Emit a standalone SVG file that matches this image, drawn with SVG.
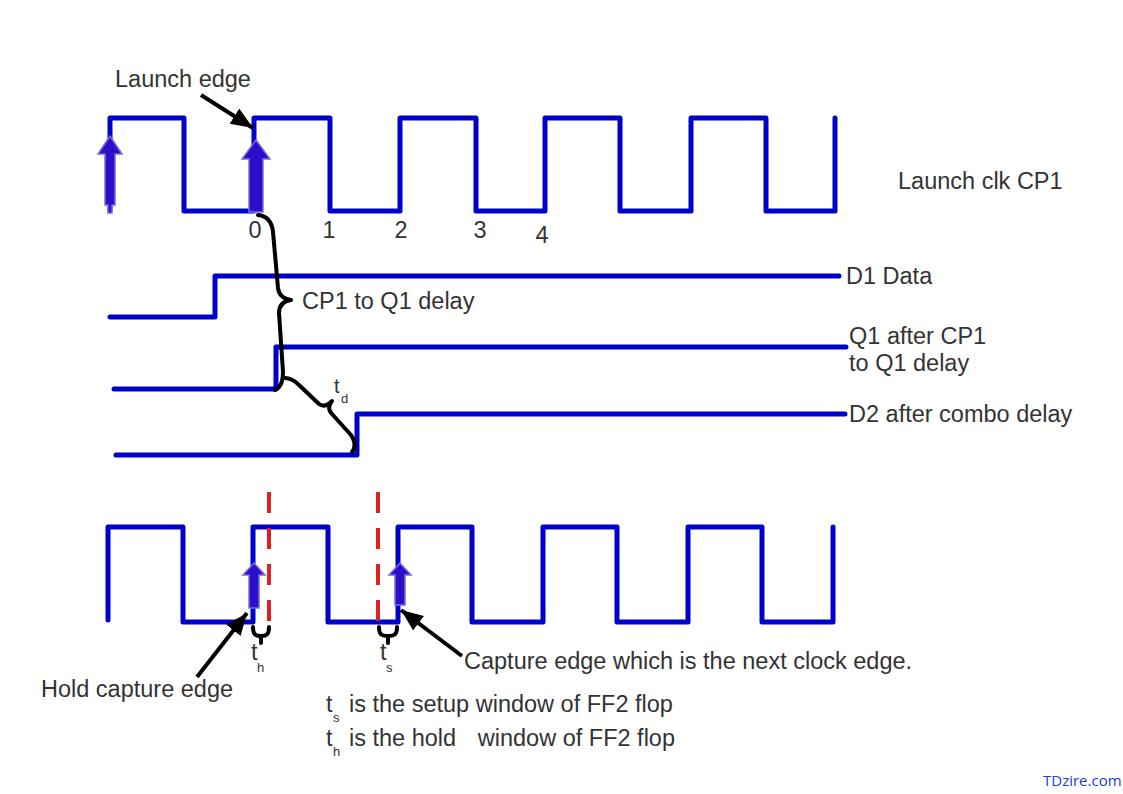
<svg xmlns="http://www.w3.org/2000/svg" width="1123" height="794" viewBox="0 0 1123 794">
<style>
.w{fill:none;stroke:#0000cc;stroke-width:5;stroke-linejoin:round;stroke-linecap:round}
.t{font-family:"Liberation Sans",Arial,sans-serif;font-size:23.5px;fill:#333333}
.sub{font-family:"Liberation Sans",Arial,sans-serif;font-size:13px;fill:#333333}
.br{fill:none;stroke:#000;stroke-width:4;stroke-linecap:round;stroke-linejoin:round}
.ba{fill:#2a10c8;stroke:#7a6ae0;stroke-width:1.5}
.ar{stroke:#000;stroke-width:4;fill:none}
.rd{stroke:#e02020;stroke-width:4;stroke-dasharray:21 15;fill:none}
</style>
<defs>
<marker id="ah" markerUnits="userSpaceOnUse" markerWidth="24" markerHeight="20" refX="22" refY="10" orient="auto">
<path d="M0,1 L22,10 L0,19 Z" fill="#000"/>
</marker>
</defs>
<rect width="1123" height="794" fill="#fff"/>

<g id="launch-clock">
<path class="w" d="M110,210 V118 H184 V211 H254 V118 H330 V211 H400 V118 H476 V211 H545 V118 H620 V211 H691 V118 H766 V211 H835 V118"/>
<polygon class="ba" points="108,213 108,205 105,205 105,154 98,154 110,136 122,154 115,154 115,205 112,205 112,213"/>
<polygon class="ba" points="249,212 249,159 242,159 256,140 270,159 263,159 263,212"/>
<text class="t" x="898" y="189">Launch clk CP1</text>
<text class="t" x="255" y="238" text-anchor="middle">0</text>
<text class="t" x="329" y="238" text-anchor="middle">1</text>
<text class="t" x="401" y="238" text-anchor="middle">2</text>
<text class="t" x="480" y="238" text-anchor="middle">3</text>
<text class="t" x="542" y="243" text-anchor="middle">4</text>
</g>

<g id="d1-data">
<path class="w" d="M110,317 H215 V276 H839"/>
<text class="t" x="846" y="284">D1 Data</text>
</g>

<g id="q1">
<path class="w" d="M114,389 H276 V347 H846"/>
<text class="t" x="849" y="344">Q1 after CP1</text>
<text class="t" x="849" y="371">to Q1 delay</text>
</g>

<g id="d2">
<path class="w" d="M116,455 H357 V414 H845"/>
<text class="t" x="849" y="422">D2 after combo delay</text>
</g>

<g id="capture-clock">
<path class="w" d="M108,620 V527 H183 V622 H253 V527 H328 V622 H398 V527 H472 V622 H543 V527 H617 V622 H688 V527 H762 V622 H833 V527"/>
<line class="rd" x1="269" y1="492" x2="269" y2="628"/>
<line class="rd" x1="378" y1="492" x2="378" y2="628"/>
<polygon class="ba" points="249,608 249,575 243,575 254,563 265,575 259,575 259,608"/>
<polygon class="ba" points="395,605 395,575 389,575 400,563 411,575 405,575 405,605"/>
</g>

<g id="annotations">
<text class="t" x="115" y="87">Launch edge</text>
<text class="t" x="302" y="309">CP1 to Q1 delay</text>
<text class="t" x="334" y="393" style="font-size:20px">t</text>
<text class="sub" x="341" y="403">d</text>
<text class="t" x="251" y="660">t</text>
<text class="sub" x="257" y="672">h</text>
<text class="t" x="380" y="660">t</text>
<text class="sub" x="386" y="672">s</text>
<text class="t" x="464" y="669">Capture edge which is the next clock edge.</text>
<text class="t" x="41" y="697">Hold capture edge</text>
<text class="t" x="326" y="712">t</text>
<text class="sub" x="333" y="722">s</text>
<text class="t" x="349" y="712">is the setup window of FF2 flop</text>
<text class="t" x="326" y="746">t</text>
<text class="sub" x="333" y="756">h</text>
<text class="t" x="349" y="746">is the hold</text>
<text class="t" x="675" y="746" text-anchor="end">window of FF2 flop</text>
<text x="1043" y="786" style="font-family:'Open Sans','Liberation Sans',sans-serif;font-size:15px;fill:#2040d8">TDzire.com</text>
</g>

<g id="connectors">
<path class="br" d="M258,215 C268,216 272,222 273,232 L278,288 C279,296 284,299 291,300 C284,301 279,305 279,313 L283,372 C283,382 280,388 275,390"/>
<path class="br" d="M285,378 C291,378 295,381 299,385 L319,404 C323,407 327,406 332,401 C328,406 328,410 332,414 L351,435 C356,442 355,448 352,452"/>
<path class="br" d="M253,627 C253,634 255,636 261,636 L261,643 M261,636 C267,636 269,634 269,627"/>
<path class="br" d="M379,627 C379,634 381,636 388,636 L388,643 M388,636 C395,636 397,634 397,627"/>
<line class="ar" x1="201" y1="95" x2="253" y2="128" marker-end="url(#ah)"/>
<line class="ar" x1="197" y1="677" x2="247" y2="613" marker-end="url(#ah)"/>
<line class="ar" x1="462" y1="656" x2="401" y2="610" marker-end="url(#ah)"/>
</g>
</svg>
